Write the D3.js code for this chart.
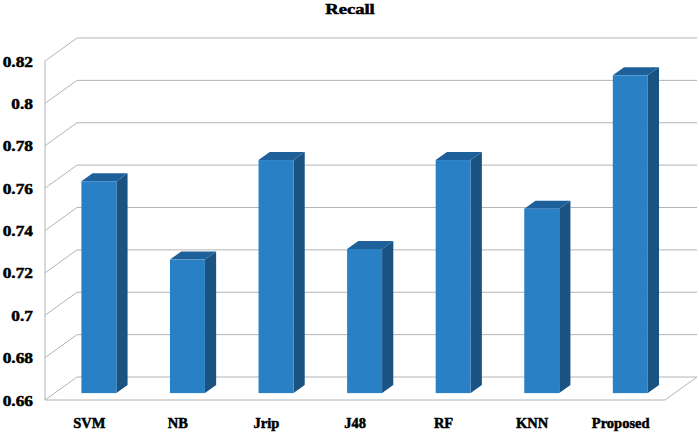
<!DOCTYPE html>
<html>
<head>
<meta charset="utf-8">
<script src="https://cdn.jsdelivr.net/npm/d3@7"></script>
<style>
  html, body { margin: 0; padding: 0; background: #ffffff; }
  svg { display: block; }
</style>
</head>
<body>
<svg id="chart" width="699" height="434"></svg>
<script>
// ---- data ----
const categories = ["SVM", "NB", "Jrip", "J48", "RF", "KNN", "Proposed"];
const recallValues = [0.76, 0.723, 0.77, 0.728, 0.77, 0.747, 0.81];
const yTicks = [0.66, 0.68, 0.7, 0.72, 0.74, 0.76, 0.78, 0.8, 0.82];
const yTickLabels = ["0.66", "0.68", "0.7", "0.72", "0.74", "0.76", "0.78", "0.8", "0.82"];
const chartTitle = "Recall";

(function () {
const FONT = "'Liberation Serif', 'Times New Roman', serif";
const plotLeft = 45, plotRight = 665, plotBottom = 400, plotTop = 61;
const depthX = 32, depthY = 23;
const barDepthStart = 0.3;
const barDepthFrac = 0.35;
const barWidthFrac = 0.395;

const svg = d3.select("#chart");

const x = d3.scaleBand().domain(categories).range([plotLeft, plotRight]).padding(0);
const y = d3.scaleLinear().domain([0.66, 0.82]).range([plotBottom, plotTop]);

const grid = svg.append("g").attr("stroke", "#b4b4b4").attr("stroke-width", 1).attr("fill", "none");

yTicks.forEach(t => {
  const yf = y(t), yb = y(t) - depthY;
  grid.append("line").attr("x1", plotLeft + depthX).attr("y1", yb).attr("x2", plotRight + depthX).attr("y2", yb);
  grid.append("line").attr("x1", plotLeft).attr("y1", yf).attr("x2", plotLeft + depthX).attr("y2", yb);
});
grid.append("line").attr("x1", plotLeft).attr("y1", y(0.82)).attr("x2", plotLeft).attr("y2", y(0.66));
grid.append("line").attr("x1", plotLeft).attr("y1", y(0.66)).attr("x2", plotRight).attr("y2", y(0.66));
grid.append("line").attr("x1", plotRight).attr("y1", y(0.66)).attr("x2", plotRight + depthX).attr("y2", y(0.66) - depthY);

const dx0 = depthX * barDepthStart, dy0 = depthY * barDepthStart;
const bdx = depthX * barDepthFrac, bdy = depthY * barDepthFrac;
const bw = x.bandwidth() * barWidthFrac;

const bars = svg.append("g");
categories.forEach((c, i) => {
  const v = recallValues[i];
  const x0 = x(c) + x.bandwidth() / 2 + dx0 - bw / 2;
  const x1 = x0 + bw;
  const yt = y(v) - dy0;
  const yb = y(0.66) - dy0;
  const g = bars.append("g");
  g.append("path")
    .attr("d", `M${x1},${yt} L${x1 + bdx},${yt - bdy} L${x1 + bdx},${yb - bdy} L${x1},${yb} Z`)
    .attr("fill", "#1a5282");
  g.append("path")
    .attr("d", `M${x0},${yt} L${x0 + bdx},${yt - bdy} L${x1 + bdx},${yt - bdy} L${x1},${yt} Z`)
    .attr("fill", "#1e609a");
  g.append("rect")
    .attr("x", x0).attr("y", yt).attr("width", bw).attr("height", yb - yt)
    .attr("fill", "#2a80c5");
});

function heavy(sel) {
  return sel.attr("font-family", FONT).attr("font-weight", "bold")
    .attr("fill", "#000").attr("stroke", "#000").attr("stroke-width", 0.5);
}

yTicks.forEach((t, i) => {
  heavy(svg.append("text")
    .attr("transform", `translate(33,${y(t) + 5.5}) scale(1.12,1)`)
    .attr("text-anchor", "end")
    .attr("font-size", 15.5))
    .text(yTickLabels[i]);
});

categories.forEach(c => {
  heavy(svg.append("text")
    .attr("x", x(c) + x.bandwidth() / 2)
    .attr("y", 428)
    .attr("text-anchor", "middle")
    .attr("font-size", 14.5))
    .text(c);
});

heavy(svg.append("text")
  .attr("transform", `translate(350,13.5) scale(1.2,1)`)
  .attr("text-anchor", "middle")
  .attr("font-size", 15.5))
  .text(chartTitle);
})();
</script>
</body>
</html>
